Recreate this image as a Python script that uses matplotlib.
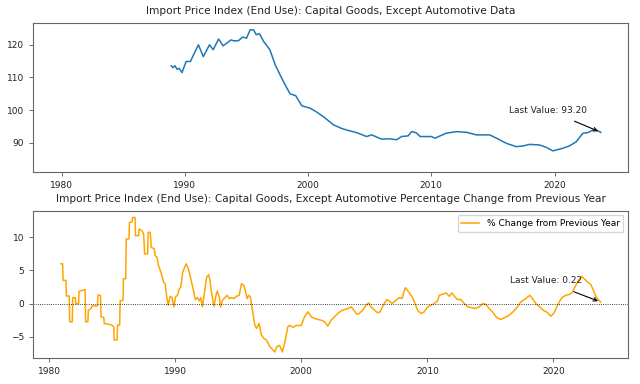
import matplotlib
matplotlib.use("Agg")
import matplotlib.pyplot as plt

# Indice de precios (anio decimal, valor)
idx_years = [1988.9, 1989.04, 1989.2, 1989.37, 1989.55, 1989.77, 1990.1, 1990.45, 1990.7, 1991.1,
             1991.5, 1992.0, 1992.3, 1992.74, 1993.1, 1993.4, 1993.74, 1994.0, 1994.36, 1994.7,
             1995.0, 1995.3, 1995.57, 1995.8, 1996.06, 1996.4, 1996.66, 1996.9, 1997.33, 1997.73,
             1998.14, 1998.54, 1999.0, 1999.5, 2000.16, 2000.7, 2001.24, 2002.05, 2002.7, 2003.13,
             2003.94, 2004.75, 2005.16, 2005.97, 2006.64, 2007.18, 2007.59, 2008.12, 2008.4, 2008.75,
             2009.1, 2010.0, 2010.3, 2011.2, 2012.04, 2012.85, 2013.66, 2014.74, 2015.28, 2016.1,
             2016.9, 2017.43, 2017.98, 2018.8, 2019.33, 2019.86, 2020.67, 2021.2, 2021.76, 2022.3,
             2022.7, 2023.24, 2023.75]
idx_values = [113.6, 113.0, 113.6, 112.5, 112.8, 111.5, 114.9, 114.9, 116.9, 120.0,
              116.4, 120.0, 118.5, 121.8, 119.7, 120.5, 121.5, 121.2, 121.3, 122.4,
              122.0, 124.6, 124.6, 123.1, 123.4, 121.0, 119.7, 118.5, 113.9, 110.8,
              107.7, 105.0, 104.4, 101.3, 100.6, 99.4, 98.0, 95.5, 94.4, 93.9,
              93.1, 91.9, 92.4, 91.1, 91.2, 90.9, 91.9, 92.1, 93.4, 93.1,
              91.9, 91.9, 91.4, 92.9, 93.4, 93.2, 92.4, 92.4, 91.4, 89.8,
              88.8, 89.0, 89.5, 89.3, 88.6, 87.5, 88.3, 89.0, 90.3, 92.9,
              93.1, 94.1, 93.2]

# Variacion porcentual anual
pct_years = [1980.95, 1981.08, 1981.12, 1981.34, 1981.38, 1981.6, 1981.64, 1981.84, 1981.88, 1982.08,
             1982.12, 1982.34, 1982.38, 1982.63, 1982.86, 1982.9, 1983.08, 1983.12, 1983.34, 1983.4,
             1983.84, 1983.88, 1984.08, 1984.12, 1984.34, 1984.38, 1984.66, 1984.97, 1985.13, 1985.17,
             1985.39, 1985.43, 1985.6, 1985.64, 1985.87, 1985.9, 1986.08, 1986.12, 1986.34, 1986.38,
             1986.58, 1986.62, 1986.82, 1986.86, 1987.1, 1987.14, 1987.37, 1987.5, 1987.58, 1987.82,
             1987.86, 1988.03, 1988.1, 1988.34, 1988.42, 1988.55, 1988.68, 1988.82, 1988.95, 1989.08,
             1989.2, 1989.34, 1989.45, 1989.6, 1989.76, 1989.9, 1990.03, 1990.18, 1990.34, 1990.45,
             1990.6, 1990.87, 1991.05, 1991.24, 1991.45, 1991.6, 1991.76, 1991.92, 1992.03, 1992.16,
             1992.37, 1992.5, 1992.66, 1992.76, 1992.9, 1993.08, 1993.24, 1993.34, 1993.5, 1993.6,
             1993.76, 1993.95, 1994.13, 1994.29, 1994.47, 1994.66, 1994.87, 1995.08, 1995.26, 1995.45,
             1995.6, 1995.71, 1995.84, 1995.97, 1996.13, 1996.32, 1996.45, 1996.66, 1996.84, 1997.03,
             1997.24, 1997.5, 1997.76, 1997.9, 1998.07, 1998.28, 1998.5, 1998.68, 1998.94, 1999.08,
             1999.34, 1999.6, 2000.0, 2000.26, 2000.53, 2000.8, 2001.06, 2001.32, 2001.58, 2001.85,
             2002.1, 2002.37, 2002.64, 2002.9, 2003.17, 2003.43, 2003.7, 2003.96, 2004.17, 2004.4,
             2004.6, 2004.88, 2005.14, 2005.36, 2005.54, 2005.8, 2006.07, 2006.25, 2006.5, 2006.78,
             2007.0, 2007.2, 2007.52, 2007.78, 2008.0, 2008.1, 2008.26, 2008.52, 2008.8, 2008.97,
             2009.23, 2009.5, 2009.76, 2010.03, 2010.3, 2010.55, 2010.8, 2010.95, 2011.2, 2011.48,
             2011.74, 2011.95, 2012.14, 2012.4, 2012.66, 2012.93, 2013.2, 2013.46, 2013.8, 2014.12,
             2014.38, 2014.64, 2014.9, 2015.17, 2015.49, 2015.83, 2016.15, 2016.5, 2016.8, 2017.15,
             2017.41, 2017.8, 2018.13, 2018.39, 2018.65, 2018.92, 2019.18, 2019.45, 2019.8, 2020.05,
             2020.32, 2020.66, 2020.98, 2021.3, 2021.5, 2021.77, 2021.98, 2022.24, 2022.43, 2022.7,
             2022.96, 2023.17, 2023.4, 2023.56, 2023.75]
pct_values = [6.0, 6.0, 3.5, 3.5, 1.15, 1.15, -2.75, -2.75, 0.9, 0.9,
              0.0, 0.0, 1.85, 2.0, 2.1, -2.75, -2.75, -1.0, -0.75, -0.35,
              -0.35, 1.3, 1.2, -2.0, -2.1, -3.0, -3.1, -3.25, -3.5, -5.5,
              -5.5, -3.25, -3.25, 0.4, 0.5, 3.75, 3.75, 9.75, 9.75, 12.25,
              12.35, 13.0, 13.0, 10.25, 10.25, 11.25, 11.0, 10.5, 7.5, 7.5,
              10.75, 10.75, 8.5, 8.25, 7.25, 7.0, 5.75, 5.0, 4.25, 3.25,
              3.0, 1.0, -0.25, 1.1, 0.9, -0.5, 1.0, 1.25, 2.25, 2.5,
              4.75, 6.0, 5.25, 3.75, 2.0, 0.6, 0.9, 0.4, 0.9, -0.5,
              2.25, 4.0, 4.35, 3.5, 1.5, -0.4, 1.25, 1.9, 1.0, -0.5,
              0.5, 0.9, 1.25, 0.75, 0.9, 0.75, 1.1, 1.25, 3.0, 2.75,
              1.75, 0.75, 1.25, 1.0, -1.0, -3.25, -3.75, -3.0, -4.75, -5.25,
              -5.5, -6.5, -7.0, -7.3, -6.5, -6.3, -7.3, -6.0, -3.5, -3.3,
              -3.6, -3.3, -3.3, -2.0, -1.25, -2.0, -2.25, -2.4, -2.5, -2.75,
              -3.4, -2.5, -2.0, -1.5, -1.1, -0.9, -0.75, -0.5, -1.0, -1.6,
              -1.5, -1.0, -0.25, 0.1, -0.5, -1.0, -1.4, -1.25, -0.25, 0.6,
              0.4, 0.0, 0.5, 0.9, 0.75, 1.5, 2.4, 1.75, 1.0, 0.25,
              -1.0, -1.5, -1.25, -0.5, -0.25, 0.0, 0.4, 1.25, 1.4, 1.6,
              1.1, 1.6, 1.1, 0.6, 0.6, 0.0, -0.5, -0.6, -0.75, -0.5,
              0.0, -0.1, -0.75, -1.25, -2.1, -2.4, -2.1, -1.75, -1.25, -0.5,
              0.25, 0.75, 1.25, 0.6, -0.1, -0.5, -1.0, -1.25, -1.9, -1.4,
              -0.25, 0.9, 1.25, 1.4, 1.75, 2.75, 3.5, 4.1, 3.75, 3.25,
              2.9, 2.0, 0.9, 0.6, 0.22]

fig = plt.figure(figsize=(6.4, 3.84), dpi=100)
plt.rcParams['font.size'] = 6.5

# Grafico superior - indice
ax1 = fig.add_axes([0.052, 0.551, 0.929, 0.390])
ax1.plot(idx_years, idx_values, color='#1f77b4', linewidth=1.1)
ax1.set_title('Import Price Index (End Use): Capital Goods, Except Automotive Data',
              fontsize=7.6, color='#222222')
ax1.set_xlim(1977.7, 2025.95)
ax1.set_ylim(80.9, 126.8)
ax1.annotate(f'Last Value: {idx_values[-1]:.2f}', xy=(idx_years[-1], idx_values[-1]),
             xytext=(idx_years[-1] - 4.25, idx_values[-1] + 6.8), ha='center', va='center',
             fontsize=6.5, color='#222222',
             arrowprops=dict(arrowstyle='->', color='black', lw=0.8, shrinkA=7))

# Grafico inferior - variacion porcentual
ax2 = fig.add_axes([0.052, 0.068, 0.929, 0.383])
ax2.plot(pct_years, pct_values, color='orange', linewidth=1.1, label='% Change from Previous Year')
ax2.axhline(0, color='black', linestyle=':', linewidth=0.6)
ax2.set_title('Import Price Index (End Use): Capital Goods, Except Automotive Percentage Change from Previous Year',
              fontsize=7.6, color='#222222')
ax2.set_xlim(1978.75, 2025.9)
ax2.set_ylim(-8.2, 14.0)
ax2.legend(loc='upper right', fontsize=6.5)
ax2.annotate(f'Last Value: {pct_values[-1]:.2f}', xy=(pct_years[-1], pct_values[-1]),
             xytext=(pct_years[-1] - 4.35, pct_values[-1] + 3.2), ha='center', va='center',
             fontsize=6.5, color='#222222',
             arrowprops=dict(arrowstyle='->', color='black', lw=0.8, shrinkA=7))

for ax in (ax1, ax2):
    ax.tick_params(labelsize=6.5, length=3, width=0.6, labelcolor='#222222', color='#555555')
    for s in ax.spines.values():
        s.set_linewidth(0.8)
        s.set_color('#666666')

fig.savefig('out.png', dpi=100)
